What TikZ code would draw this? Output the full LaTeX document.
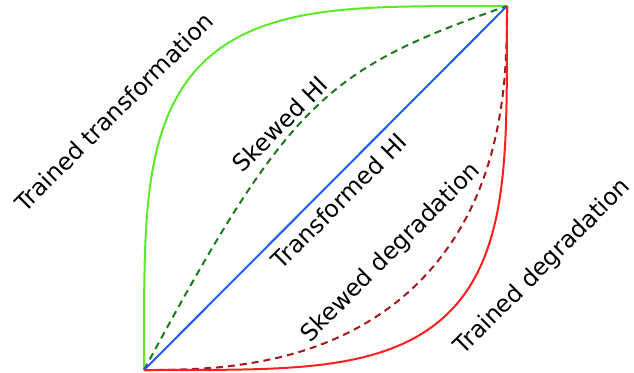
\documentclass[tikz,border=0pt]{standalone}
\usepackage{fontspec}
\setmainfont{DejaVu Sans}
\definecolor{trainedgreen}{HTML}{5AEA28}
\definecolor{skewgreen}{HTML}{1C7A1C}
\definecolor{hiblue}{HTML}{1F5CF5}
\definecolor{skewred}{HTML}{A81818}
\definecolor{trainedred}{HTML}{FF1E1E}
\begin{document}
\begin{tikzpicture}[x=1pt,y=-1pt,
  curve/.style={line width=2pt},
  dashcurve/.style={curve, dash pattern=on 7pt off 5pt},
  lbl/.style={inner sep=0pt, rotate=45, font=\fontsize{23.6}{28}\selectfont}]
\useasboundingbox (0,0) rectangle (634,372);

\coordinate (O) at (144,370);
\coordinate (T) at (507,6);

% trained transformation: quarter superellipse (p = 4)
\draw[curve, trainedgreen] (O) -- plot[domain=0:90, samples=240, variable=\t]
  ({144+363*(1-sqrt(abs(cos(\t))))}, {370-364*sqrt(abs(sin(\t)))}) -- (T);

% skewed HI
\draw[dashcurve, skewgreen] (O) .. controls (289.2,100.6) and (325.5,69.7) .. (T);

% transformed HI
\draw[curve, hiblue] (O) -- (T);

% skewed degradation: quarter superellipse (p = 2.5)
\draw[dashcurve, skewred] (O) -- plot[domain=0.2:89.8, samples=240, variable=\t]
  ({144+363*(sin(\t))^0.8}, {370-364*(1-(cos(\t))^0.8)}) -- (T);

% trained degradation: mirror of the trained transformation
\draw[curve, trainedred] (O) -- plot[domain=0:90, samples=240, variable=\t]
  ({144+363*sqrt(abs(sin(\t)))}, {370-364*(1-sqrt(abs(cos(\t))))}) -- (T);

\node[lbl] (ltt) at (114,112) {Trained transformation};
\node[lbl] (lsh) at (280,124) {Skewed HI};
\node[lbl] (lth) at (339,201) {Transformed HI};
\node[lbl] (lsd) at (391,253) {Skewed degradation};
\node[lbl] (ltd) at (543,267) {Trained degradation};
\end{tikzpicture}
\end{document}
